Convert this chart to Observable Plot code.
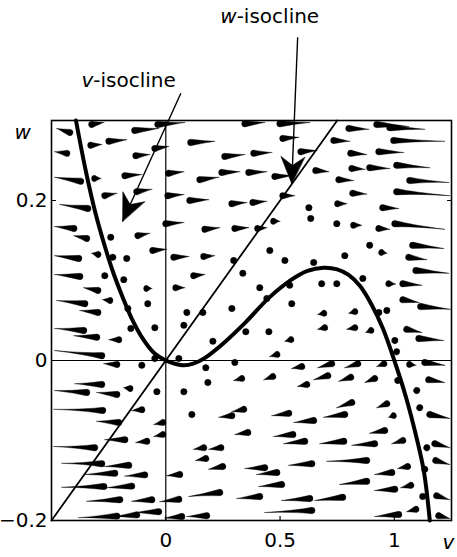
<!DOCTYPE html>
<html><head><meta charset="utf-8">
<script src="https://cdn.jsdelivr.net/npm/d3@7"></script>
<script src="https://cdn.jsdelivr.net/npm/@observablehq/plot@0.6"></script>
<style>body{margin:0;background:#fff}</style>
</head><body><div id="chart"></div>
<script>
// ---- data ----
const xDomain = [-0.5, 1.25];
const yDomain = [-0.2, 0.3];
const xTicks = [0, 0.5, 1];
const xTickLabels = ["0", "0.5", "1"];
const yTicks = [-0.2, 0, 0.2];
const yTickLabels = ["\u22120.2", "0", "0.2"];
const origin = [0];

// v-isocline (cubic)
const vIsoV = [-0.393, -0.35, -0.31, -0.27, -0.23, -0.19, -0.15, -0.1, -0.05, 0, 0.04, 0.08, 0.12, 0.17, 0.25, 0.35, 0.45, 0.55, 0.62, 0.69, 0.75, 0.8, 0.85, 0.9, 0.95, 1.0, 1.05, 1.1, 1.13, 1.155];
const vIsoW = [0.3, 0.237, 0.187, 0.146, 0.11, 0.08, 0.053, 0.027, 0.009, 0, -0.004, -0.006, -0.004, 0.003, 0.021, 0.048, 0.078, 0.101, 0.112, 0.116, 0.114, 0.107, 0.093, 0.07, 0.04, 0, -0.045, -0.1, -0.14, -0.2];

// w-isocline (straight line) end points
const wIsoV = [-0.5, 0.75];
const wIsoW = [-0.2, 0.3];

// direction field: [head v, head w, tail v, tail w]
const fieldArrows = [
[-0.420,0.285,-0.477,0.290],[-0.324,0.295,-0.271,0.2975],[-0.136,0.2875,-0.031,0.29],[-0.035,0.295,0.083,0.2975],
[-0.433,0.259,-0.486,0.261],[-0.328,0.269,-0.280,0.27],[-0.249,0.274,-0.171,0.276],[-0.048,0.265,0.013,0.2675],
[0.109,0.2725,0.214,0.274],[-0.131,0.256,-0.070,0.2575],[-0.372,0.224,-0.486,0.229],[-0.311,0.2275,-0.284,0.2275],
[-0.179,0.231,-0.105,0.2325],[0.013,0.234,0.079,0.236],[0.149,0.226,0.232,0.229],[-0.341,0.19,-0.464,0.195],
[-0.267,0.206,-0.214,0.209],[-0.127,0.211,-0.061,0.214],[0.009,0.206,0.079,0.2075],[0.105,0.2,0.188,0.201],
[-0.402,0.165,-0.486,0.1675],[-0.346,0.1525,-0.402,0.156],[-0.241,0.154,-0.241,0.154],[-0.122,0.156,-0.070,0.159],
[0,0.171,0.079,0.1725],[0.171,0.164,0.236,0.166],[-0.057,0.1375,0.004,0.139],[-0.381,0.1275,-0.486,0.131],
[-0.297,0.1325,-0.324,0.134],[-0.171,0.1275,-0.171,0.1275],[-0.232,0.129,-0.232,0.129],[0.035,0.129,0.101,0.13],
[0.166,0.13,0.214,0.131],
[0.346,0.296,0.433,0.2975],[0.499,0.296,0.630,0.2975],[0.801,0.29,0.888,0.289],[0.923,0.295,1.063,0.2925],
[0.980,0.291,1.133,0.289],[0.512,0.2775,0.582,0.279],[0.735,0.275,0.805,0.274],[0.997,0.275,1.220,0.274],
[0.258,0.255,0.346,0.2575],[0.385,0.259,0.464,0.26],[0.591,0.261,0.661,0.2625],[0.809,0.259,0.879,0.2575],
[0.932,0.261,1.041,0.26],[0.245,0.235,0.324,0.236],[0.363,0.235,0.442,0.236],[0.477,0.23,0.551,0.231],
[0.656,0.2375,0.713,0.236],[0.814,0.24,0.871,0.239],[0.892,0.241,0.980,0.24],[1.010,0.244,1.155,0.241],
[0.757,0.226,0.822,0.225],[1.067,0.225,1.238,0.2225],[0.512,0.206,0.564,0.206],[0.818,0.209,0.879,0.208],
[1.010,0.211,1.242,0.206],[0.289,0.196,0.354,0.1975],[0.381,0.1975,0.442,0.199],[0.626,0.191,0.626,0.191],
[0.752,0.196,0.792,0.196],[0.949,0.191,1.019,0.19],[0.302,0.165,0.363,0.166],[0.402,0.165,0.442,0.166],
[0.472,0.174,0.499,0.174],[0.634,0.1775,0.634,0.1775],[0.748,0.171,0.748,0.171],[0.822,0.169,0.857,0.169],
[0.932,0.165,0.980,0.164],[1.002,0.171,1.220,0.164],[0.455,0.1375,0.455,0.1375],[0.892,0.144,0.910,0.144],
[0.945,0.135,0.967,0.134],[1.080,0.144,1.216,0.14],[0.783,0.131,0.783,0.131],[1.063,0.129,1.142,0.126],
[-0.376,0.105,-0.486,0.1075],[-0.267,0.106,-0.267,0.106],[-0.184,0.101,-0.184,0.101],[-0.083,0.09,-0.061,0.09],
[0.044,0.091,0.083,0.091],[0.122,0.106,0.171,0.1075],[-0.297,0.0875,-0.359,0.091],[-0.245,0.075,-0.276,0.076],
[-0.354,0.071,-0.477,0.075],[-0.297,0.06,-0.376,0.0625],[-0.166,0.065,-0.166,0.065],[-0.079,0.071,-0.065,0.071],
[0.092,0.06,0.11,0.0605],[0.162,0.06,0.162,0.06],[0.289,0.065,0.289,0.065],[-0.359,0.0375,-0.486,0.04],
[-0.302,0.029,-0.402,0.031],[-0.206,0.026,-0.249,0.026],[-0.153,0.04,-0.153,0.04],[-0.048,0.041,-0.048,0.041],
[0.079,0.044,0.079,0.044],[0.206,0.024,0.206,0.024],[-0.280,0.006,-0.486,0.0125],[-0.214,-0.005,-0.271,-0.004],
[-0.105,-0.006,-0.105,-0.006],[-0.048,0.0025,-0.048,0.0025],[0.057,0.0025,0.057,0.0025],[0.175,-0.009,0.175,-0.009],
[0.184,-0.0275,0.184,-0.0275],[-0.280,-0.03,-0.398,-0.029],[-0.346,-0.04,-0.486,-0.0375],[-0.214,-0.0425,-0.302,-0.04],
[-0.157,-0.035,-0.184,-0.034],[-0.039,-0.039,-0.039,-0.039],[0.079,-0.039,0.079,-0.039],
[0.297,0.125,0.297,0.125],[0.337,0.109,0.337,0.109],[0.411,0.091,0.411,0.091],[0.521,0.125,0.521,0.125],
[0.647,0.1225,0.647,0.1225],[1.094,0.1125,1.238,0.109],[0.442,0.0775,0.442,0.0775],[0.542,0.094,0.542,0.094],
[0.682,0.096,0.682,0.096],[0.748,0.096,0.748,0.096],[0.862,0.1025,0.862,0.1025],[0.976,0.096,1.005,0.0955],
[1.037,0.096,1.120,0.094],[1.037,0.076,1.107,0.0725],[1.115,0.0675,1.245,0.064],[0.350,0.036,0.350,0.036],
[0.451,0.036,0.451,0.036],[0.547,0.026,0.521,0.024],[0.551,0.071,0.551,0.071],[0.691,0.059,0.665,0.0575],
[0.695,0.041,0.665,0.039],[0.827,0.061,0.801,0.059],[0.827,0.041,0.792,0.039],[0.897,0.0375,0.875,0.035],
[0.932,0.06,0.945,0.0595],[0.967,0.0625,0.985,0.062],[1.002,0.025,1.015,0.0245],[1.010,0.011,1.020,0.0105],
[1.054,0.039,1.120,0.035],[1.107,0.0275,1.216,0.025],[0.486,0.0075,0.455,0.005],[0.302,-0.0025,0.302,-0.0025],
[0.595,-0.0075,0.551,-0.01],[0.726,-0.004,0.665,-0.009],[0.840,-0.004,0.783,-0.009],[0.954,-0.004,0.923,-0.0075],
[1.067,-0.005,1.094,-0.006],[1.133,-0.0025,1.220,-0.006],[0.332,-0.0225,0.297,-0.025],[0.468,-0.02,0.429,-0.024],
[0.709,-0.019,0.647,-0.024],[0.809,-0.021,0.757,-0.026],[0.914,-0.0225,0.871,-0.0275],[1.015,-0.025,1.010,-0.0252],
[1.150,-0.024,1.220,-0.0275],[0.617,-0.03,0.577,-0.0325],[1.098,-0.0375,1.11,-0.039],[0.814,-0.0525,0.748,-0.059],
[0.967,-0.054,0.923,-0.059],[1.111,-0.059,1.125,-0.06],
[-0.276,-0.0625,-0.490,-0.061],[-0.105,-0.0615,-0.149,-0.0625],[0.114,-0.0675,0.114,-0.0675],[0.289,-0.069,0.232,-0.071],
[-0.206,-0.0775,-0.302,-0.076],[-0.013,-0.0775,-0.052,-0.08],[-0.179,-0.099,-0.267,-0.099],[-0.083,-0.101,-0.131,-0.1025],
[-0.013,-0.0925,-0.052,-0.095],[-0.311,-0.109,-0.490,-0.1075],[0.166,-0.109,0.122,-0.111],[0.241,-0.109,0.188,-0.111],
[-0.280,-0.129,-0.455,-0.1285],[-0.162,-0.131,-0.267,-0.1325],[0.175,-0.1225,0.131,-0.125],[0.249,-0.1325,0.188,-0.136],
[-0.223,-0.141,-0.354,-0.1425],[-0.092,-0.143,-0.179,-0.1445],[0.061,-0.1425,0.004,-0.144],[-0.271,-0.1575,-0.455,-0.1585],
[-0.149,-0.157,-0.258,-0.159],[0.236,-0.165,0.101,-0.17],[-0.201,-0.174,-0.346,-0.176],[-0.061,-0.174,-0.149,-0.176],
[0.057,-0.1735,-0.026,-0.1765],[-0.214,-0.1945,-0.381,-0.1965],[-0.127,-0.193,-0.223,-0.195],[-0.031,-0.189,-0.136,-0.19],
[0.070,-0.195,-0.004,-0.197],[0.179,-0.194,0.092,-0.195],
[0.341,-0.061,0.289,-0.064],[0.538,-0.066,0.464,-0.069],[0.647,-0.075,0.560,-0.0775],[0.783,-0.0675,0.691,-0.071],
[0.995,-0.069,0.975,-0.071],[1.155,-0.0675,1.242,-0.0725],[0.359,-0.09,0.302,-0.0925],[0.556,-0.0925,0.472,-0.095],
[0.608,-0.101,0.516,-0.104],[0.779,-0.101,0.674,-0.104],[0.914,-0.104,0.814,-0.106],[0.958,-0.0875,0.892,-0.091],
[1.037,-0.1,0.989,-0.104],[1.142,-0.109,1.155,-0.11],[1.177,-0.104,1.242,-0.109],[0.433,-0.134,0.346,-0.135],
[0.486,-0.14,0.398,-0.1425],[0.639,-0.129,0.538,-0.131],[0.879,-0.125,0.704,-0.126],[0.989,-0.14,0.914,-0.1425],
[1.058,-0.1325,1.015,-0.135],[1.133,-0.136,1.133,-0.136],[1.181,-0.125,1.242,-0.13],[0.507,-0.155,0.407,-0.1575],
[0.879,-0.151,0.761,-0.155],[1.002,-0.161,0.914,-0.1625],[1.072,-0.156,1.028,-0.159],[1.124,-0.17,1.124,-0.17],
[1.185,-0.169,1.242,-0.174],[0.411,-0.17,0.311,-0.1725],[0.630,-0.1725,0.507,-0.175],[0.774,-0.171,0.652,-0.175],
[0.639,-0.1875,0.433,-0.19],[1.019,-0.1925,0.914,-0.195],[1.094,-0.186,1.054,-0.189],[1.194,-0.194,1.242,-0.1975]
];

// annotations: label position, arrow start, arrow tip
const annotLetters = ["v", "w"];
const annotRest = ["-isocline", "-isocline"];
const annotTextV = [-0.317, 0.31];
const annotTextW = [0.35, 0.43];
const annotStartV = [0.066, 0.577];
const annotStartW = [0.334, 0.404];
const annotTipV = [-0.189, 0.551];
const annotTipW = [0.174, 0.221];

const axisNames = ["w", "v"];
const axisNameV = [-0.59, 1.262];
const axisNameW = [0.285, -0.228];

// ---- layout ----
const W = 457, H = 557, ML = 51, MR = 6, MT = 120, MB = 37;
const kx = (W - ML - MR) / (xDomain[1] - xDomain[0]);
const ky = (H - MT - MB) / (yDomain[1] - yDomain[0]);
const FONT = "DejaVu Sans";

const cubic = vIsoV.map((v, i) => ({v, w: vIsoW[i]}));
const wLine = wIsoV.map((v, i) => ({v, w: wIsoW[i]}));
const field = fieldArrows.map(([vh, wh, vt, wt]) => {
  const dx = (vt - vh) * kx, dy = -(wt - wh) * ky;
  return {v: vh, w: wh, len: Math.max(0.5, Math.hypot(dx, dy)), rot: Math.atan2(dx, -dy) * 180 / Math.PI};
});
const annots = annotLetters.map((letter, i) => {
  const dx = (annotTipV[i] - annotStartV[i]) * kx, dy = -(annotTipW[i] - annotStartW[i]) * ky;
  return {letter, rest: annotRest[i], tv: annotTextV[i], tw: annotTextW[i],
    sv: annotStartV[i], sw: annotStartW[i], ev: annotTipV[i], ew: annotTipW[i],
    rot: Math.atan2(dx, -dy) * 180 / Math.PI};
});
const names = axisNames.map((t, i) => ({t, v: axisNameV[i], w: axisNameW[i]}));

const teardrop = {
  draw(ctx, l, r) {
    if (l <= r * 1.4) { ctx.moveTo(r, 0); ctx.arc(0, 0, r, 0, 2 * Math.PI); ctx.closePath(); return; }
    const h = Math.min(l * 0.7, 17), c = 0.6;
    ctx.moveTo(0, -l);
    ctx.quadraticCurveTo(c, -h, r, 0);
    ctx.arc(0, 0, r, 0, Math.PI);
    ctx.quadraticCurveTo(-c, -h, 0, -l);
    ctx.closePath();
  }
};
const barb = {
  draw(ctx, l, r) {
    ctx.moveTo(0, -l); ctx.lineTo(r, 0); ctx.lineTo(0, -l * 0.32); ctx.lineTo(-r, 0); ctx.closePath();
  }
};
const stem = {draw(ctx, l) { ctx.moveTo(0, 0); ctx.lineTo(0, -l); }};

const chart = Plot.plot({
  width: W, height: H,
  marginLeft: ML, marginRight: MR, marginTop: MT, marginBottom: MB,
  style: {fontFamily: FONT, fontSize: "20px", background: "#fff", color: "#000", overflow: "visible"},
  x: {domain: xDomain, ticks: xTicks, tickFormat: d => xTickLabels[xTicks.indexOf(d)], tickSize: 0, tickPadding: 12, label: null},
  y: {domain: yDomain, ticks: yTicks, tickFormat: d => yTickLabels[yTicks.indexOf(d)], tickSize: 0, tickPadding: 4, label: null},
  length: {type: "identity"},
  marks: [
    Plot.frame({stroke: "#000", strokeWidth: 1.6}),
    Plot.ruleX(origin, {stroke: "#000", strokeWidth: 1.2}),
    Plot.ruleY(origin, {stroke: "#000", strokeWidth: 1.2}),
    // small inward tick marks on the frame
    Plot.vector(xTicks, {x: d => d, y: () => yDomain[0], length: 4, rotate: 0, anchor: "start", shape: stem, stroke: "#000", strokeWidth: 1.2}),
    Plot.vector(yTicks, {x: () => xDomain[0], y: d => d, length: 4, rotate: 90, anchor: "start", shape: stem, stroke: "#000", strokeWidth: 1.2}),
    Plot.vector(yTicks, {x: () => xDomain[1], y: d => d, length: 4, rotate: -90, anchor: "start", shape: stem, stroke: "#000", strokeWidth: 1.2}),
    Plot.line(wLine, {x: "v", y: "w", stroke: "#000", strokeWidth: 1.8}),
    Plot.line(cubic, {x: "v", y: "w", stroke: "#000", strokeWidth: 4, curve: "catmull-rom"}),
    Plot.vector(field, {x: "v", y: "w", length: "len", rotate: "rot", anchor: "start", shape: teardrop, r: 3.2,
      fill: "#000", stroke: "#000", strokeWidth: 0.4}),
    Plot.link(annots, {x1: "sv", y1: "sw", x2: "ev", y2: "ew", stroke: "#000", strokeWidth: 1.4}),
    Plot.vector(annots, {x: "ev", y: "ew", rotate: "rot", length: 27, anchor: "end", shape: barb, r: 12,
      fill: "#000", stroke: "#000", strokeWidth: 0.5}),
    Plot.text(annots, {x: "tv", y: "tw", text: "letter", textAnchor: "end", fontStyle: "italic", fontSize: 20, fontFamily: FONT}),
    Plot.text(annots, {x: "tv", y: "tw", text: "rest", textAnchor: "start", fontSize: 20, fontFamily: FONT}),
    Plot.text(names, {x: "v", y: "w", text: "t", textAnchor: "end", fontStyle: "italic", fontSize: 20, fontFamily: FONT})
  ]
});
document.getElementById("chart").appendChild(chart);
</script></body></html>
